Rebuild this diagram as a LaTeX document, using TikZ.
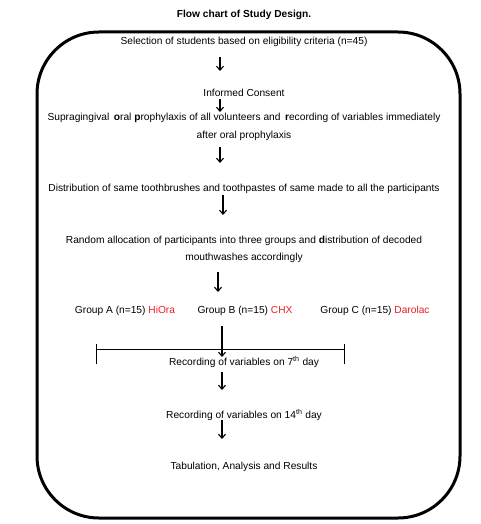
\documentclass[tikz,border=0pt]{standalone}
\usepackage{fontspec}
\setmainfont{Liberation Sans}
\usetikzlibrary{arrows.meta}
\definecolor{gred}{RGB}{232,30,37}
\begin{document}
\begin{tikzpicture}[x=1pt,y=-1pt,
  txt/.style={inner sep=0pt,font=\fontsize{10.2}{18}\selectfont,align=center},
  arr/.style={line width=1.1pt,-{Straight Barb[length=4pt,width=7pt,line width=1.1pt]}},
  bar/.style={line width=1pt}]
\useasboundingbox (0,0) rectangle (480,524);
\node[txt,font=\fontsize{10.2}{12}\selectfont\bfseries] (title) at (244,15) {Flow chart of Study Design.};
\draw[line width=3pt,rounded corners=62pt] (37,32) rectangle (460,518);
\node[txt] (sel) at (244,42) {Selection of students based on eligibility criteria (n=45)};
\node[txt] (cons) at (244,93) {Informed Consent};
\node[txt] (supra) at (244,126.5) {Supragingival \,\textbf{o}ral \textbf{p}rophylaxis of all volunteers and \,\textbf{r}ecording of variables immediately\\after oral prophylaxis};
\node[txt] (dist) at (244,189) {Distribution of same toothbrushes and toothpastes of same made to all the participants};
\node[txt,font=\fontsize{10.2}{17}\selectfont] (rand) at (244,249.5) {Random allocation of participants into three groups and \textbf{d}istribution of decoded\\mouthwashes accordingly};
\node[txt] (ga) at (125,311) {Group A (n=15) \textcolor{gred}{HiOra}};
\node[txt] (gb) at (245,311) {Group B (n=15) \textcolor{gred}{CHX}};
\node[txt] (gc) at (375,311) {Group C (n=15) \textcolor{gred}{Darolac}};
\node[txt] (r7) at (244,362) {Recording of variables on 7\textsuperscript{th} day};
\node[txt] (r14) at (244,415) {Recording of variables on 14\textsuperscript{th} day};
\node[txt] (tab) at (244,467) {Tabulation, Analysis and Results};
% arrow end points
\coordinate (a1s) at (220,57);  \coordinate (a1e) at (220,71);
\coordinate (a2s) at (220,99);  \coordinate (a2e) at (220,112);
\coordinate (a3s) at (220,147); \coordinate (a3e) at (220,163);
\coordinate (a4s) at (223,195); \coordinate (a4e) at (223,215);
\coordinate (a5s) at (218,272); \coordinate (a5e) at (218,292);
\coordinate (a6s) at (222,326); \coordinate (a6e) at (222,357);
\coordinate (a7s) at (222,372); \coordinate (a7e) at (222,390);
\coordinate (a8s) at (222,420); \coordinate (a8e) at (222,439);
\coordinate (bl) at (96,349); \coordinate (br) at (344,349);
\draw[arr] (a1s) -- (a1e);
\draw[arr] (a2s) -- (a2e);
\draw[arr] (a3s) -- (a3e);
\draw[arr] (a4s) -- (a4e);
\draw[arr] (a5s) -- (a5e);
\draw[arr] (a6s) -- (a6e);
\draw[arr] (a7s) -- (a7e);
\draw[arr] (a8s) -- (a8e);
\draw[bar] (bl) -- (br);
\draw[bar] ([yshift=-15pt]bl) -- ([yshift=5pt]bl);
\draw[bar] ([yshift=-15pt]br) -- ([yshift=5pt]br);
\end{tikzpicture}
\end{document}
